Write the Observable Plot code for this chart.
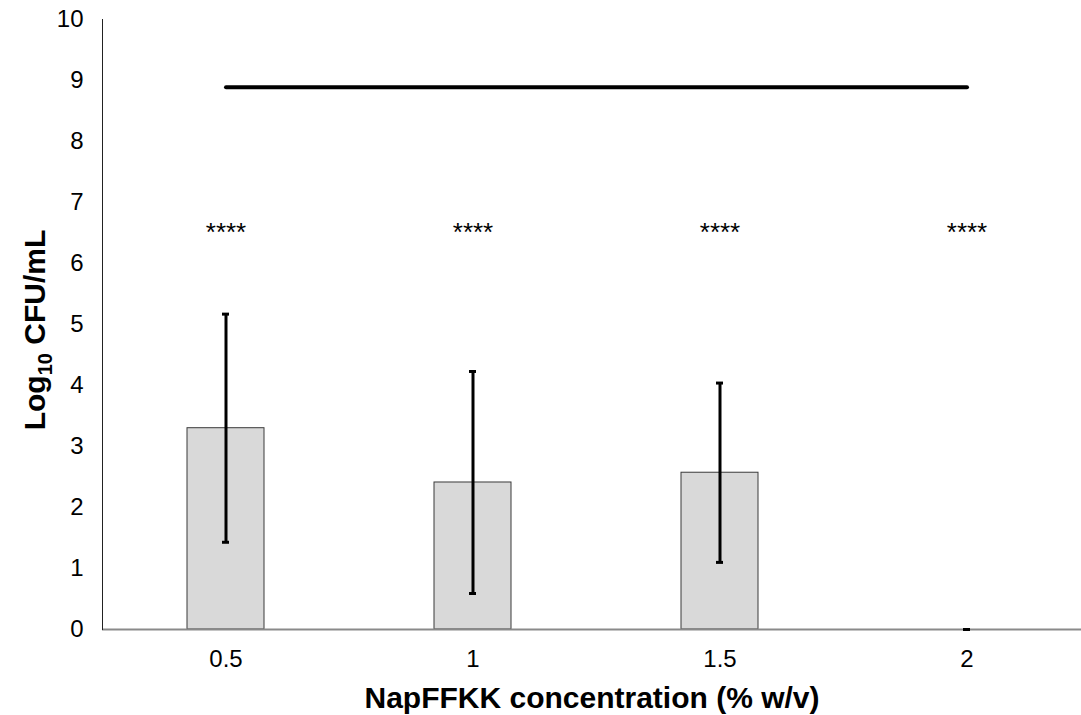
<!DOCTYPE html>
<html><head><meta charset="utf-8">
<script src="https://cdn.jsdelivr.net/npm/d3@7"></script>
<script src="https://cdn.jsdelivr.net/npm/@observablehq/plot@0.6"></script>
<style>body{margin:0;background:#fff;} svg{display:block;}</style>
</head><body><div id="chart"></div>
<script>
const concentrations = ["0.5", "1", "1.5", "2"];
const meanLog = [3.30, 2.41, 2.57, 0];
const sdLog = [1.87, 1.82, 1.47, 0];
const significance = ["****", "****", "****", "****"];
const controlLevel = 8.89;
const starLevel = 6.5;
const yTicks = [0, 1, 2, 3, 4, 5, 6, 7, 8, 9, 10];
const xTitle = "NapFFKK concentration (% w/v)";

const rows = concentrations.map((c, i) => ({
  c, mean: meanLog[i], lo: meanLog[i] - sdLog[i], hi: meanLog[i] + sdLog[i], sig: significance[i], s: starLevel
}));
const control = [concentrations[0], concentrations[concentrations.length - 1]].map(c => ({c, v: controlLevel}));

const font = "'Liberation Sans', Arial, sans-serif";
const svg = Plot.plot({
  width: 1081, height: 715,
  marginTop: 19, marginBottom: 86, marginLeft: 102, marginRight: 0,
  style: {fontFamily: font, color: "#000", background: "#fff"},
  x: {domain: concentrations, range: [101.5, 1089.5], paddingInner: 0.69, paddingOuter: 0.345},
  y: {domain: [0, 10]},
  marks: [
    Plot.barY(rows, {x: "c", y: "mean", fill: "#d9d9d9", stroke: "#3a3a3a", strokeWidth: 1}),
    Plot.ruleY([0], {stroke: "#8a8a8a", strokeWidth: 2}),
    Plot.frame({anchor: "left", stroke: "#222", strokeWidth: 1}),
    Plot.ruleX(rows, {x: "c", y1: "lo", y2: "hi", stroke: "#000", strokeWidth: 3}),
    Plot.tickY(rows, {x: "c", y: "hi", stroke: "#000", strokeWidth: 3, insetLeft: 35, insetRight: 35}),
    Plot.tickY(rows, {x: "c", y: "lo", stroke: "#000", strokeWidth: 3, insetLeft: 35, insetRight: 35}),
    Plot.line(control, {x: "c", y: "v", stroke: "#000", strokeWidth: 4}),
    Plot.text(rows, {x: "c", y: "s", text: "sig", fontSize: 26, fill: "#000", lineAnchor: "middle"}),
    Plot.axisY({ticks: yTicks, tickSize: 0, tickPadding: 19, fontSize: 24, label: null}),
    Plot.axisX({tickSize: 0, tickPadding: 20, fontSize: 24, label: null})
  ]
});
const s = d3.select(svg);
s.append("text").attr("x", 592).attr("y", 708).attr("text-anchor", "middle")
  .attr("font-family", font).attr("font-weight", "bold").attr("font-size", 30).text(xTitle);
const yt = s.append("text").attr("transform", "translate(45,330) rotate(-90)").attr("text-anchor", "middle")
  .attr("font-family", font).attr("font-weight", "bold").attr("font-size", 30);
yt.append("tspan").text("Log");
yt.append("tspan").attr("font-size", 20).attr("dy", 7).text("10");
yt.append("tspan").attr("dy", -7).text(" CFU/mL");
document.getElementById("chart").append(svg);
</script></body></html>
